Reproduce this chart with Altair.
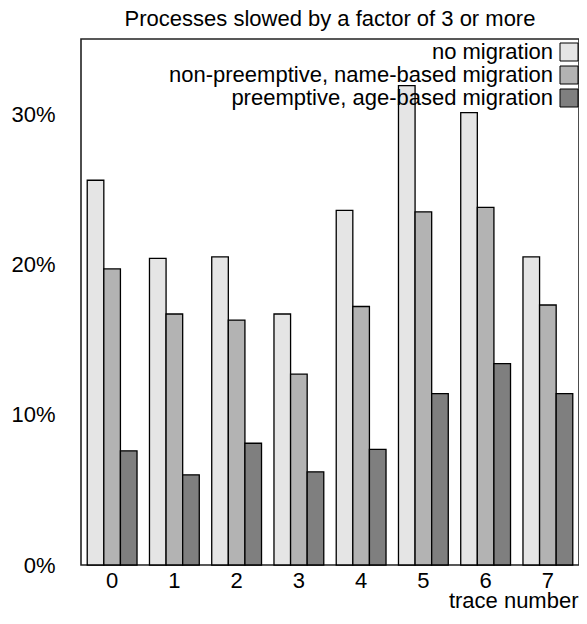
import altair as alt
import pandas as pd

traces = ["0", "1", "2", "3", "4", "5", "6", "7"]
schemes = [
    "no migration",
    "non-preemptive, name-based migration",
    "preemptive, age-based migration",
]
no_migration = [25.6, 20.4, 20.5, 16.7, 23.6, 31.9, 30.1, 20.5]
name_based = [19.7, 16.7, 16.3, 12.7, 17.2, 23.5, 23.8, 17.3]
age_based = [7.6, 6.0, 8.1, 6.2, 7.7, 11.4, 13.4, 11.4]
colors = ["#e5e5e5", "#b3b3b3", "#7f7f7f"]
y_ticks = [0, 0.1, 0.2, 0.3]

rows = []
for s, vals in zip(schemes, [no_migration, name_based, age_based]):
    for t, v in zip(traces, vals):
        rows.append({"trace": t, "scheme": s, "value": v / 100})
df = pd.DataFrame(rows)

FONT = "Liberation Sans"

chart = (
    alt.Chart(df)
    .mark_bar(stroke="black", strokeWidth=1.3)
    .encode(
        x=alt.X(
            "trace:N",
            sort=traces,
            scale=alt.Scale(paddingInner=0.2, paddingOuter=0.1),
            axis=alt.Axis(
                title="trace number",
                labelAngle=0,
                ticks=False,
                domain=False,
                labelBaseline="alphabetic",
                labelPadding=22,
                titleAnchor="end",
                titleBaseline="alphabetic",
                titleY=42,
                titleX=497,
                titleAlign="right",
            ),
        ),
        xOffset=alt.XOffset(
            "scheme:N", sort=schemes, scale=alt.Scale(paddingInner=0, paddingOuter=0)
        ),
        y=alt.Y(
            "value:Q",
            scale=alt.Scale(domain=[0, 0.35], nice=False),
            axis=alt.Axis(
                title=None,
                format=".0%",
                values=y_ticks,
                ticks=False,
                domain=False,
                grid=False,
                labelPadding=26,
            ),
        ),
        color=alt.Color(
            "scheme:N",
            sort=schemes,
            scale=alt.Scale(domain=schemes, range=colors),
            legend=alt.Legend(
                title=None,
                orient="none",
                legendX=477,
                legendY=2,
                symbolType="square",
                symbolSize=324,
                symbolStrokeColor="black",
                symbolStrokeWidth=1,
                symbolOpacity=1,
                labelAlign="right",
                labelOffset={"expr": "-27"},
                labelFontSize=22,
                labelFont=FONT,
                labelColor="black",
                labelLimit=1000,
                rowPadding=1,
                padding=0,
            ),
        ),
    )
    .properties(
        width=498,
        height=526,
        title=alt.TitleParams(
            "Processes slowed by a factor of 3 or more",
            fontSize=22,
            fontWeight="normal",
            font=FONT,
            color="black",
            anchor="middle",
            frame="group",
            offset=8,
        ),
        autosize=alt.AutoSizeParams(type="none"),
        padding={"left": 73, "top": 31, "right": 0, "bottom": 47},
    )
    .configure_view(stroke="#222222", strokeWidth=1.6)
    .configure_axis(
        labelFont=FONT,
        labelFontSize=22,
        labelColor="black",
        titleFont=FONT,
        titleFontSize=22,
        titleFontWeight="normal",
        titleColor="black",
    )
)

chart.save("out.html", embed_options={"renderer": "svg", "actions": False})
